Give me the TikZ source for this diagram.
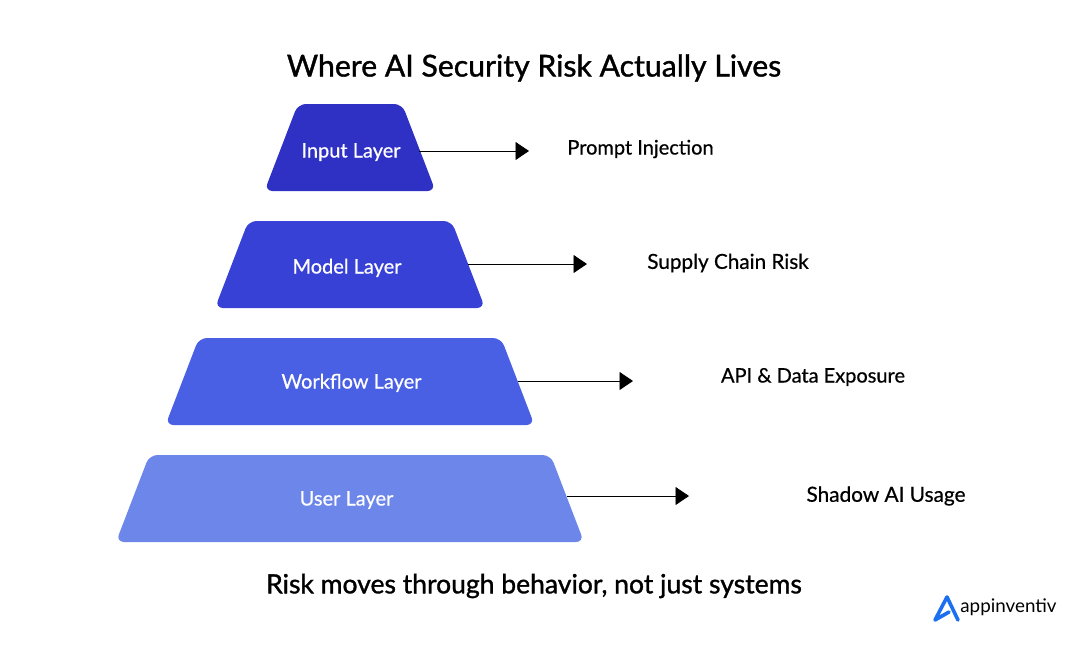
\documentclass[tikz,border=0pt]{standalone}
\usepackage{fontspec}
\setmainfont{Lato}
\usetikzlibrary{shapes.geometric, arrows.meta}
\definecolor{inputBlue}{HTML}{2F30C4}
\definecolor{modelBlue}{HTML}{3741D6}
\definecolor{workflowBlue}{HTML}{4A60E4}
\definecolor{userBlue}{HTML}{6D86EA}
\definecolor{logoBlue}{HTML}{1B6FF0}
\newfontfamily\medium[FakeBold=0.6]{Lato}
\newfontfamily\semibold[FakeBold=1.2]{Lato}
\tikzstyle{layerBox} = [shape=trapezium, trapezium angle=69, trapezium stretches body,
	text height=50pt, text depth=37pt, outer sep=0pt, inner sep=0pt, rounded corners=8pt,
	text=white, font=\medium\fontsize{20}{24}\selectfont]
\tikzstyle{riskText} = [text=black, font=\medium\fontsize{20}{24}\selectfont]
\tikzstyle{headText} = [text=black, font=\semibold\fontsize{30.2}{36}\selectfont]
\tikzstyle{normalArrow} = [line width=0.9pt,-{Triangle[length=13.5pt,width=18pt]}]

\begin{document}
\begin{tikzpicture}[node distance=117pt]
  \useasboundingbox (0,0) rectangle (1080pt,-646pt);

  \node (TITLE) [headText] at (534pt,-68pt) {Where AI Security Risk Actually Lives};

  \node (INPUT) [layerBox, fill=inputBlue, minimum width=171pt, text height=53.5pt, text depth=33.5pt] at (350pt,-147.5pt) {\hspace*{2pt}Input Layer};
  \node (MODEL) [layerBox, fill=modelBlue, minimum width=270pt, text height=52.5pt, text depth=34.5pt, below of=INPUT] {\hspace*{-6pt}Model Layer};
  \node (WORKFLOW) [layerBox, fill=workflowBlue, minimum width=369pt, text height=50.5pt, text depth=36.5pt, below of=MODEL] {\hspace*{3pt}Workflow Layer};
  \node (USER) [layerBox, fill=userBlue, minimum width=468pt, text height=50.5pt, text depth=36.5pt, below of=WORKFLOW] {\hspace*{-7pt}User Layer};

  \node (PROMPT) [riskText, right of=INPUT, xshift=173.5pt, yshift=-1.5pt] {Prompt Injection};
  \node (SUPPLY) [riskText, font=\medium\fontsize{20.7}{24}\selectfont, right of=MODEL, xshift=261pt, yshift=1.5pt] {Supply Chain Risk};
  \node (API) [riskText, right of=WORKFLOW, xshift=346pt, yshift=4.5pt] {API \& Data Exposure};
  \node (SHADOW) [riskText, font=\medium\fontsize{20.8}{24}\selectfont, right of=USER, xshift=419pt, yshift=2.5pt] {Shadow AI Usage};

  \coordinate (INPUTEND) at (529pt,-151pt);
  \coordinate (MODELEND) at (587pt,-264pt);
  \coordinate (WORKFLOWEND) at (633pt,-381pt);
  \coordinate (USEREND) at (689pt,-496pt);

  \draw [normalArrow] (INPUTEND -| INPUT.east) -- (INPUTEND);
  \draw [normalArrow] (MODELEND -| MODEL.east) -- (MODELEND);
  \draw [normalArrow] (WORKFLOWEND -| WORKFLOW.east) -- (WORKFLOWEND);
  \draw [normalArrow] (USEREND -| USER.east) -- (USEREND);

  \node (CLOSING) [headText, font=\semibold\fontsize{26.5}{32}\selectfont] at (534pt,-586pt) {Risk moves through behavior, not just systems};

  % logo
  \draw [logoBlue, line width=3.6pt, line cap=round, line join=round]
    (949pt,-612pt) -- (935pt,-620pt) -- (947pt,-597pt) -- (958pt,-620pt);
  \node (BRAND) [text=black, font=\fontsize{18.8}{23}\selectfont] at (1008.5pt,-607pt) {appinventiv};
\end{tikzpicture}
\end{document}
